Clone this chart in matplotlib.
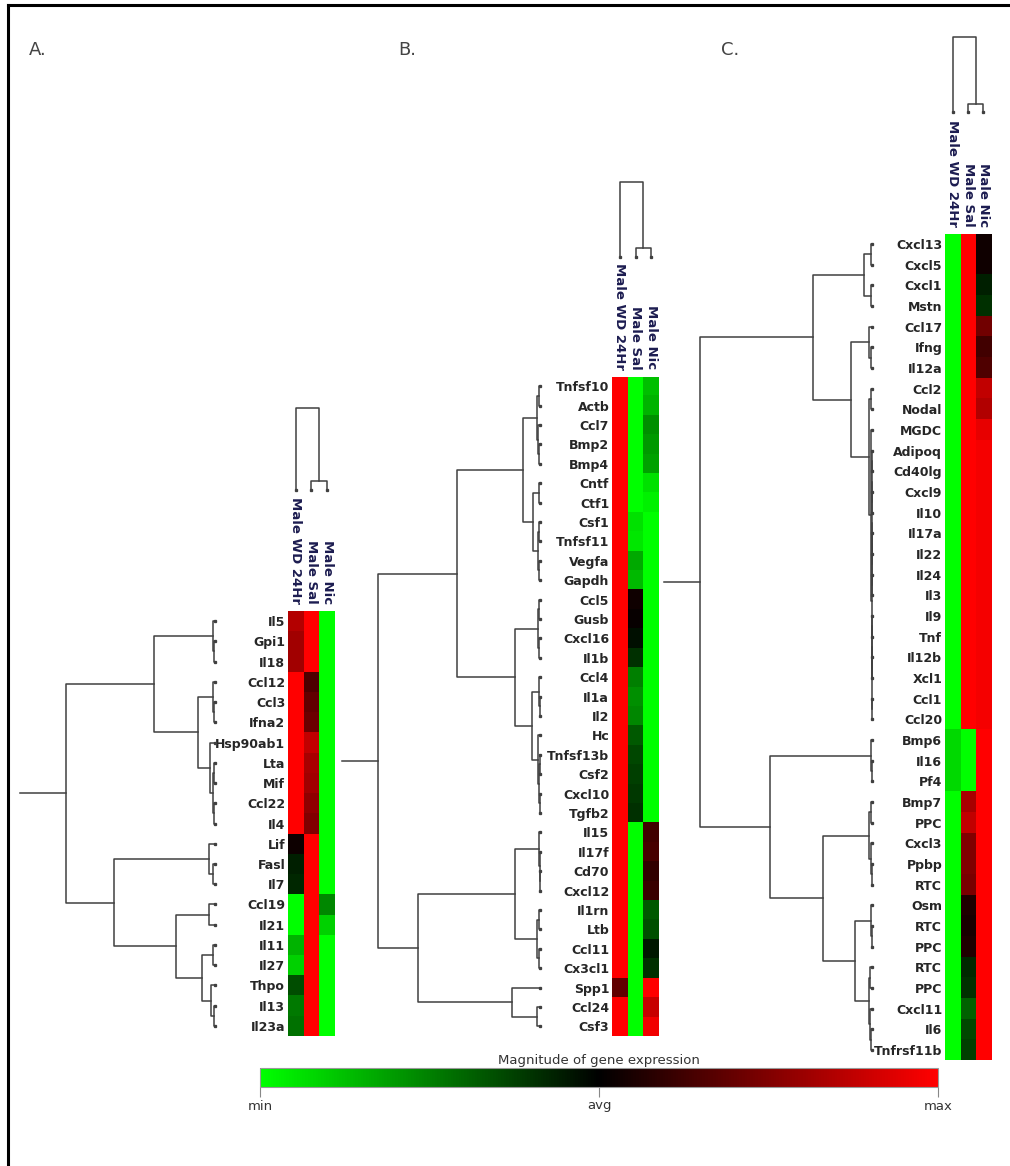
import numpy as np
import matplotlib
matplotlib.use('Agg')
import matplotlib.pyplot as plt
from matplotlib.colors import LinearSegmentedColormap, Normalize
from matplotlib.cm import ScalarMappable
from matplotlib.lines import Line2D

W, H = 1010, 1166

# ---- dados ----
cols = ['Male WD 24Hr', 'Male Sal', 'Male Nic']

genes_a = ['Il5', 'Gpi1', 'Il18', 'Ccl12', 'Ccl3', 'Ifna2', 'Hsp90ab1', 'Lta', 'Mif',
           'Ccl22', 'Il4', 'Lif', 'Fasl', 'Il7', 'Ccl19', 'Il21', 'Il11', 'Il27', 'Thpo',
           'Il13', 'Il23a']
vals_a = [[0.70, 1, -1], [0.63, 1, -1], [0.63, 1, -1], [1, 0.30, -1], [1, 0.38, -1],
          [1, 0.42, -1], [1, 0.75, -1], [1, 0.66, -1], [1, 0.63, -1], [1, 0.56, -1],
          [1, 0.50, -1], [0.05, 1, -1], [-0.12, 1, -1], [-0.15, 1, -1], [-1, 1, -0.53],
          [-1, 1, -0.82], [-0.70, 1, -1], [-0.82, 1, -1], [-0.30, 1, -1], [-0.47, 1, -1],
          [-0.44, 1, -1]]

genes_b = ['Tnfsf10', 'Actb', 'Ccl7', 'Bmp2', 'Bmp4', 'Cntf', 'Ctf1', 'Csf1', 'Tnfsf11',
           'Vegfa', 'Gapdh', 'Ccl5', 'Gusb', 'Cxcl16', 'Il1b', 'Ccl4', 'Il1a', 'Il2', 'Hc',
           'Tnfsf13b', 'Csf2', 'Cxcl10', 'Tgfb2', 'Il15', 'Il17f', 'Cd70', 'Cxcl12', 'Il1rn',
           'Ltb', 'Ccl11', 'Cx3cl1', 'Spp1', 'Ccl24', 'Csf3']
vals_b = [[1, -1, -0.75], [1, -1, -0.70], [1, -1, -0.56], [1, -1, -0.60], [1, -1, -0.63],
          [1, -1, -0.88], [1, -1, -0.94], [1, -0.88, -1], [1, -0.90, -1], [1, -0.66, -1],
          [1, -0.72, -1], [1, 0.06, -1], [1, 0.03, -1], [1, -0.06, -1], [1, -0.19, -1],
          [1, -0.50, -1], [1, -0.56, -1], [1, -0.53, -1], [1, -0.35, -1], [1, -0.28, -1],
          [1, -0.25, -1], [1, -0.22, -1], [1, -0.19, -1], [1, -1, 0.25], [1, -1, 0.28],
          [1, -1, 0.19], [1, -1, 0.22], [1, -1, -0.35], [1, -1, -0.31], [1, -1, -0.09],
          [1, -1, -0.19], [0.38, -1, 1], [1, -1, 0.78], [1, -1, 0.94]]

genes_c = ['Cxcl13', 'Cxcl5', 'Cxcl1', 'Mstn', 'Ccl17', 'Ifng', 'Il12a', 'Ccl2', 'Nodal',
           'MGDC', 'Adipoq', 'Cd40lg', 'Cxcl9', 'Il10', 'Il17a', 'Il22', 'Il24', 'Il3', 'Il9',
           'Tnf', 'Il12b', 'Xcl1', 'Ccl1', 'Ccl20', 'Bmp6', 'Il16', 'Pf4', 'Bmp7', 'PPC',
           'Cxcl3', 'Ppbp', 'RTC', 'Osm', 'RTC', 'PPC', 'RTC', 'PPC', 'Cxcl11', 'Il6',
           'Tnfrsf11b']
vals_c = [[-1, 1, 0.06], [-1, 1, 0.06], [-1, 1, -0.12], [-1, 1, -0.19], [-1, 1, 0.44],
          [-1, 1, 0.25], [-1, 1, 0.31], [-1, 1, 0.75], [-1, 1, 0.69], [-1, 1, 0.90],
          [-1, 1, 0.96], [-1, 1, 0.96], [-1, 1, 0.96], [-1, 1, 0.96], [-1, 1, 0.96],
          [-1, 1, 0.96], [-1, 1, 0.96], [-1, 1, 0.96], [-1, 1, 0.96], [-1, 1, 0.96],
          [-1, 1, 0.96], [-1, 1, 0.96], [-1, 1, 0.96], [-1, 1, 0.96], [-0.85, -1, 1],
          [-0.85, -1, 1], [-0.85, -1, 1], [-1, 0.66, 1], [-1, 0.75, 1], [-1, 0.50, 1],
          [-1, 0.50, 1], [-1, 0.47, 1], [-1, 0.12, 1], [-1, 0.10, 1], [-1, 0.12, 1],
          [-1, -0.16, 1], [-1, -0.19, 1], [-1, -0.38, 1], [-1, -0.28, 1], [-1, -0.25, 1]]

# arvores: (altura, esquerda, direita), folhas = indice do gene
tree_a = (149,
          (61, (2, 0, (1, 1, 2)),
               (17, (2, 3, (1, 4, 5)),
                    (5, 6, (2, (1, 7, 8), (1, 9, 10))))),
          (101, (6, 11, (2, 12, 13)),
                (39, (6, 14, 15),
                     (13, (2, 16, 17), (4, 18, (1, 19, 20))))))

tree_b = (162,
          (83, (17, (3, (1, 0, 1), (2, 2, (1, 3, 4))),
                    (7, (1, 5, 6), (2, (1, 7, 8), (1, 9, 10)))),
               (25, (2, (1, 11, 12), (1, 13, 14)),
                    (8, (1, 15, (0.5, 16, 17)),
                        (2, 18, (1, (0.5, 19, 20), (0.5, 21, 22)))))),
          (122, (25, (1, 23, (0.5, 24, (0.3, 25, 26))),
                     (3, (1, 27, 28), (1, 29, 30))),
                (28, 31, (3, 32, 33))))

flat_c = (0.5, (0.5, (0.5, (0.5, 10, 11), (0.5, 12, 13)), (0.5, (0.5, 14, 15), (0.5, 16, 17))),
          (0.5, (0.5, (0.5, 18, 19), (0.5, 20, 21)), (0.5, 22, 23)))
tree_c = (172,
          (59, (8, (1, 0, 1), (1, 2, 3)),
               (21, (3, 4, (1, 5, 6)),
                    (3, (1, 7, 8), (1, 9, flat_c)))),
          (102, (1, 24, (0.5, 25, 26)),
                (49, (3, (1, 27, 28), (1, 29, (0.5, 30, 31))),
                     (17, (1, 32, (0.5, 33, 34)),
                          (3, (2, 35, 36), (2, 37, (1, 38, 39)))))))

col_tree_a = (82, 0, (9, 1, 2))
col_tree_b = (75, 0, (9, 1, 2))
col_tree_c = (75, 0, (8, 1, 2))

# ---- estilo ----
cmap = LinearSegmentedColormap.from_list('gbr', ['#00ff00', '#000000', '#ff0000'])
line_c = '#404040'
label_c = '#262626'
col_label_c = '#1c1c50'

fig = plt.figure(figsize=(W / 100, H / 100), dpi=100)


def px_axes(x0, y0, x1, y1):
    return fig.add_axes([x0 / W, 1 - y1 / H, (x1 - x0) / W, (y1 - y0) / H])


def walk(node, segs):
    if not isinstance(node, tuple):
        return float(node), 0.0
    h, left, right = node
    pl, hl = walk(left, segs)
    pr, hr = walk(right, segs)
    segs.append(([hl, h, h, hr], [pl, pl, pr, pr]))
    return (pl + pr) / 2, h


def draw_rows(ax, tree, n, stub):
    segs = []
    pos, top = walk(tree, segs)
    for hs, ps in segs:
        ax.plot(hs, ps, color=line_c, lw=1.1, clip_on=False)
    ax.plot([top, top + stub], [pos, pos], color=line_c, lw=1.1, clip_on=False)
    ax.plot(np.zeros(n), np.arange(n), ls='none', marker='s', ms=1.4, color=line_c,
            clip_on=False)
    ax.set_xlim(top + stub, 0)
    ax.set_ylim(n - 0.5, -0.5)
    ax.axis('off')


def draw_cols(ax, tree):
    segs = []
    pos, top = walk(tree, segs)
    for hs, ps in segs:
        ax.plot(ps, hs, color=line_c, lw=1.1, clip_on=False)
    ax.plot(np.arange(3), np.zeros(3), ls='none', marker='s', ms=1.4, color=line_c,
            clip_on=False)
    ax.set_xlim(-0.5, 2.5)
    ax.set_ylim(0, top)
    ax.axis('off')


def draw_heat(ax, genes, vals):
    ax.imshow(np.array(vals), cmap=cmap, vmin=-1, vmax=1, aspect='auto',
              interpolation='nearest')
    ax.set_yticks(np.arange(len(genes)))
    ax.set_yticklabels(genes, fontsize=9, fontweight='bold', color=label_c)
    ax.set_xticks(np.arange(3))
    ax.set_xticklabels(cols, rotation=270, fontsize=9.5, fontweight='bold',
                       color=col_label_c)
    ax.tick_params(axis='y', length=0, pad=2)
    ax.tick_params(axis='x', top=True, bottom=False, labeltop=True, labelbottom=False,
                   length=0, pad=5)
    for s in ax.spines.values():
        s.set_visible(False)


# painel A
draw_heat(px_axes(288, 611, 335, 1036), genes_a, vals_a)
draw_rows(px_axes(20, 611, 215, 1036), tree_a, len(genes_a), 46)
draw_cols(px_axes(288, 408, 335, 490), col_tree_a)

# painel B
draw_heat(px_axes(612, 376.5, 659, 1036), genes_b, vals_b)
draw_rows(px_axes(342, 376.5, 540, 1036), tree_b, len(genes_b), 36)
draw_cols(px_axes(612, 182, 659, 257), col_tree_b)

# painel C
draw_heat(px_axes(945, 233.7, 991, 1060.4), genes_c, vals_c)
draw_rows(px_axes(664, 233.7, 872, 1060.4), tree_c, len(genes_c), 36)
draw_cols(px_axes(945, 37, 991, 112), col_tree_c)

# barra de cores
cax = px_axes(260, 1068, 938, 1087)
sm = ScalarMappable(norm=Normalize(-1, 1), cmap=cmap)
cb = fig.colorbar(sm, cax=cax, orientation='horizontal', ticks=[-1, 0, 1])
cb.ax.set_xticklabels(['min', 'avg', 'max'])
cb.ax.tick_params(length=7, color='#888888', labelsize=9.5, labelcolor='#333333', pad=2)
cb.outline.set_edgecolor('#999999')
cax.set_title('Magnitude of gene expression', fontsize=9.5, color='#333333', pad=3)

# letras dos paineis
for lab, x in [('A.', 29), ('B.', 398), ('C.', 721)]:
    fig.text(x / W, 1 - 50 / H, lab, fontsize=13, color='#444444', va='center', ha='left')

# moldura
fig.add_artist(Line2D([8 / W, 1], [1 - 5 / H, 1 - 5 / H], color='k', lw=2.2))
fig.add_artist(Line2D([8 / W, 8 / W], [0, 1 - 5 / H], color='k', lw=2.2))

fig.savefig('out.png', dpi=100)
